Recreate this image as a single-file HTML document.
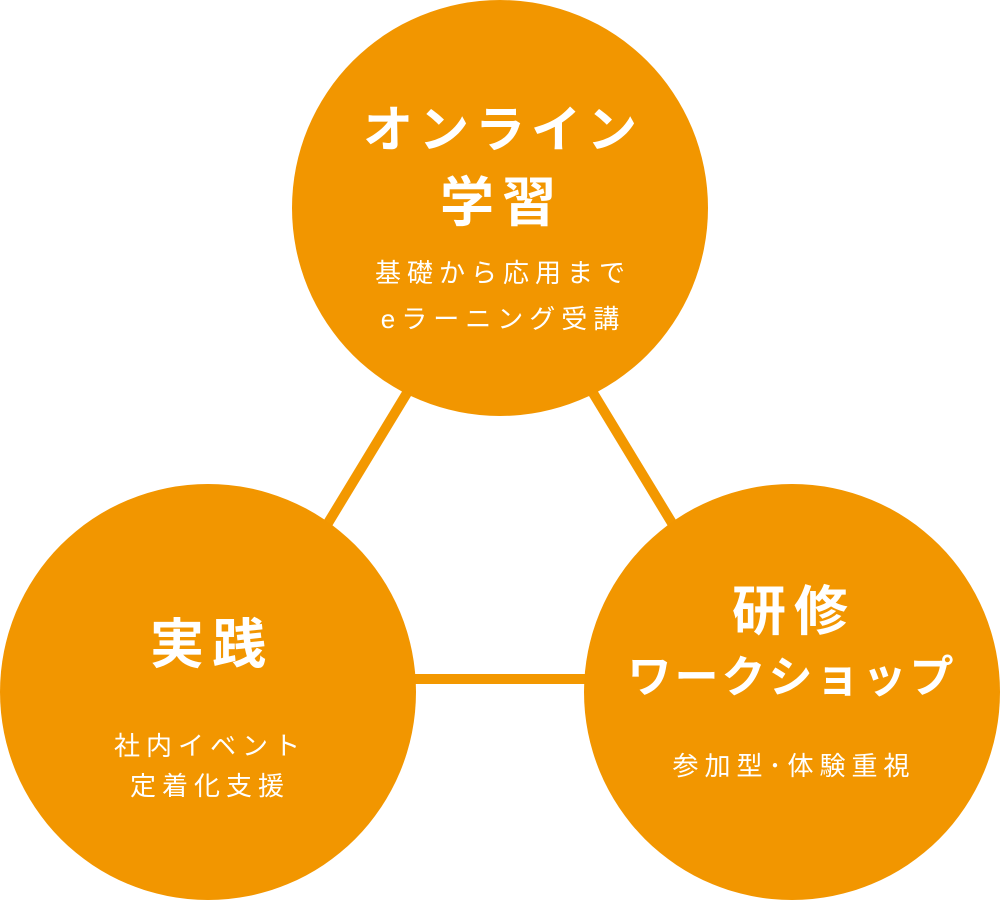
<!DOCTYPE html>
<html><head><meta charset="utf-8"><style>
html,body{margin:0;padding:0;background:#fff;}
svg{display:block;}
text{font-family:"Liberation Sans","Noto Sans CJK JP",sans-serif;fill:#fff;text-anchor:middle;}
.t{font-size:50px;font-weight:bold;letter-spacing:6px;}
.t2{font-size:54px;font-weight:bold;letter-spacing:8px;}
.w{font-size:44px;font-weight:bold;letter-spacing:3px;}
.s{font-size:26px;letter-spacing:6px;}
</style></head><body>
<svg width="1000" height="900" viewBox="0 0 1000 900">
<g stroke="#f39800" stroke-width="10">
<line x1="410" y1="388" x2="325" y2="528"/>
<line x1="590" y1="388" x2="675" y2="528"/>
<line x1="410" y1="679" x2="590" y2="679"/>
</g>
<g fill="#f29600">
<circle cx="500" cy="208" r="208"/>
<circle cx="208" cy="692" r="208"/>
<circle cx="792" cy="692" r="208"/>
</g>
<text class="t" x="503" y="147">オンライン</text>
<text class="t2" x="502" y="221">学習</text>
<text class="s" x="503" y="282">基礎から応用まで</text>
<text class="s" x="503" y="328">eラーニング受講</text>
<text class="t2" x="212" y="663">実践</text>
<text class="s" x="210" y="755">社内イベント</text>
<text class="s" x="210" y="795">定着化支援</text>
<text class="t2" x="794" y="630">研修</text>
<text class="w" x="792" y="692">ワークショップ</text>
<text class="s" x="794" y="775">参加型･体験重視</text>
</svg>
</body></html>
